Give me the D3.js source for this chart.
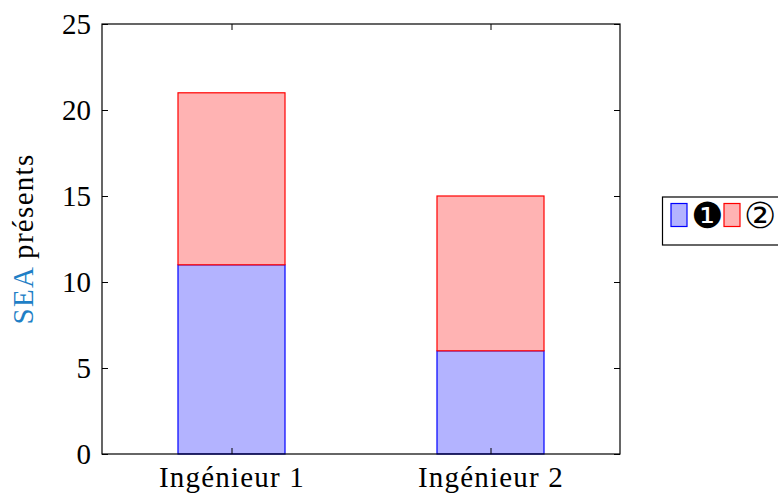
<!DOCTYPE html>
<html><head><meta charset="utf-8">
<script src="https://cdn.jsdelivr.net/npm/d3@7"></script>
<style>body{margin:0;background:#fff}svg{display:block}</style>
</head><body>
<svg id="c" width="778" height="493"></svg>
<script>
const categories = ["Ingénieur 1", "Ingénieur 2"];
const series1 = [11, 6];   // ❶
const series2 = [10, 9];   // ②
const yTicks = [0, 5, 10, 15, 20, 25];
const seriesNames = ["❶", "②"];

const svg = d3.select("#c");
const L = 102, R = 620, T = 24, B = 454;
const font = "'Liberation Serif', 'DejaVu Serif', serif";
const fs = 29;

const x = d3.scalePoint().domain(categories).range([L, R]).padding(0.5);
const y = d3.scaleLinear().domain([0, 25]).range([B, T]);
const barW = 107;

const stackData = categories.map((c, i) => ({cat: c, s0: series1[i], s1: series2[i]}));
const stack = d3.stack().keys(["s0", "s1"])(stackData);
const fills = ["#b3b3ff", "#ffb3b3"];
const strokes = ["#0000ff", "#ff0000"];

stack.forEach((layer, k) => {
  svg.append("g").selectAll("rect").data(layer).join("rect")
    .attr("x", d => x(d.data.cat) - barW / 2)
    .attr("width", barW)
    .attr("y", d => y(d[1]))
    .attr("height", d => y(d[0]) - y(d[1]))
    .attr("fill", fills[k]).attr("stroke", strokes[k]).attr("stroke-width", 1.2);
});

// axes
const tl = 6;
const gL = svg.append("g").attr("transform", `translate(${L},0)`)
  .call(d3.axisLeft(y).tickValues(yTicks).tickSize(-tl).tickPadding(11));
const gR = svg.append("g").attr("transform", `translate(${R},0)`)
  .call(d3.axisRight(y).tickValues(yTicks).tickSize(-tl).tickFormat(""));
const gB = svg.append("g").attr("transform", `translate(0,${B})`)
  .call(d3.axisBottom(x).tickSize(-tl).tickPadding(11));
const gT = svg.append("g").attr("transform", `translate(0,${T})`)
  .call(d3.axisTop(x).tickSize(-tl).tickFormat(""));
[gL, gR, gB, gT].forEach(g => {
  g.select(".domain").remove();
  g.selectAll(".tick line").attr("stroke", "#000").attr("stroke-width", 1);
  g.selectAll("text").attr("font-family", font).attr("font-size", fs).attr("fill", "#000");
});
gL.selectAll(".tick text").attr("dy", "0.34em");
gB.selectAll(".tick text").attr("dy", "0.76em").attr("letter-spacing", 1.2);
svg.append("rect").attr("x", L).attr("y", T).attr("width", R - L).attr("height", B - T)
  .attr("fill", "none").attr("stroke", "#000").attr("stroke-width", 1.2);

// y label
const yl = svg.append("text")
  .attr("transform", `translate(33,${(T + B) / 2}) rotate(-90)`)
  .attr("text-anchor", "middle").attr("letter-spacing", 1.3)
  .attr("font-family", font).attr("font-size", fs);
yl.append("tspan").attr("fill", "#1f7fc6").text("SEA");
yl.append("tspan").attr("fill", "#000").text(" présents");

// legend
const lg = svg.append("g");
lg.append("rect").attr("x", 662.5).attr("y", 197).attr("width", 130).attr("height", 48)
  .attr("fill", "#fff").attr("stroke", "#000").attr("stroke-width", 1.2);
const lx = [671, 724];
seriesNames.forEach((n, i) => {
  lg.append("rect").attr("x", lx[i]).attr("y", 203.5).attr("width", 16).attr("height", 23)
    .attr("fill", fills[i]).attr("stroke", strokes[i]).attr("stroke-width", 1.2);
  lg.append("text").attr("x", lx[i] + 20).attr("y", 228)
    .attr("font-family", "'DejaVu Sans', sans-serif").attr("font-size", 36)
    .attr("fill", "#000").text(n);
});
</script>
</body></html>
